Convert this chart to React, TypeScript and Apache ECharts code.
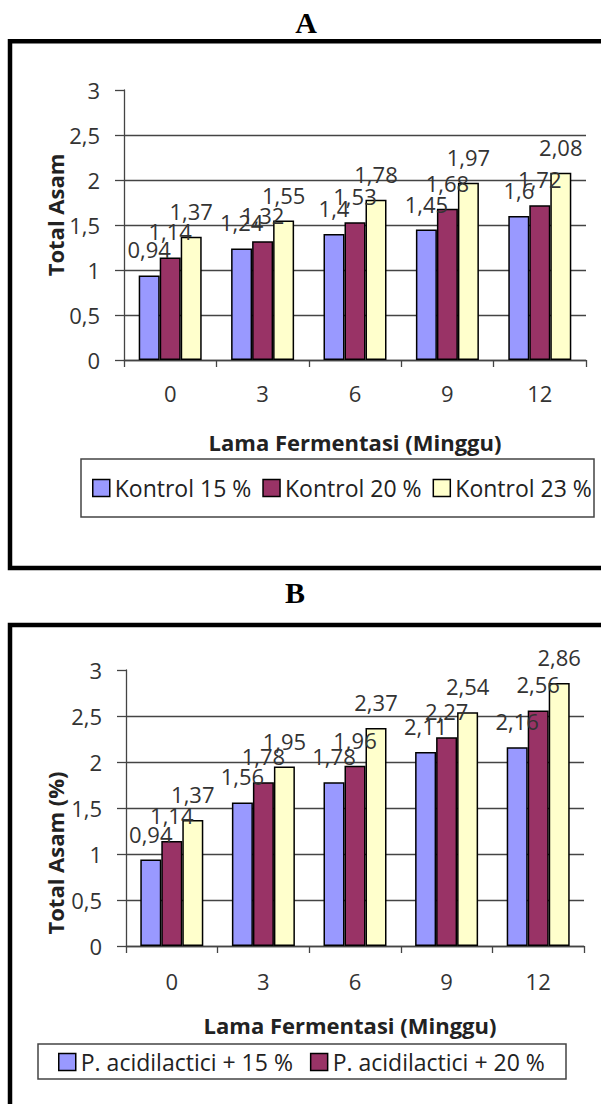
import React, { useEffect, useRef } from "react";
import * as echarts from "echarts";

const categories = ["0", "3", "6", "9", "12"];
const yTicks = [0, 0.5, 1, 1.5, 2, 2.5, 3];

const namesA = ["Kontrol 15 %", "Kontrol 20 %", "Kontrol 23 %"];
const kontrol15 = [0.94, 1.24, 1.4, 1.45, 1.6];
const kontrol20 = [1.14, 1.32, 1.53, 1.68, 1.72];
const kontrol23 = [1.37, 1.55, 1.78, 1.97, 2.08];

const namesB = ["P. acidilactici + 15 %", "P. acidilactici + 20 %", "P. acidilactici + 23 %"];
const pa15 = [0.94, 1.56, 1.78, 2.11, 2.16];
const pa20 = [1.14, 1.78, 1.96, 2.27, 2.56];
const pa23 = [1.37, 1.95, 2.37, 2.54, 2.86];

const colors = ["#9999FF", "#993366", "#FFFFCC"];
const FONT = "'Open Sans', sans-serif";

const fmt = (v: number) => String(v).replace(".", ",");

export default function App() {
  const ref = useRef<HTMLDivElement>(null);
  useEffect(() => {
    if (!ref.current) return;
    const chart = echarts.init(ref.current, null, { renderer: "svg" });

    const makeSeries = (names: string[], data: number[][], axisIndex: number) =>
      data.map((d, i) => ({
        type: "bar",
        name: names[i],
        xAxisIndex: axisIndex,
        yAxisIndex: axisIndex,
        data: d,
        barWidth: 21,
        barGap: "0%",
        itemStyle: { color: colors[i], borderColor: "#000", borderWidth: 1.5 },
        label: {
          show: true,
          position: "top",
          distance: 15,
          formatter: (p: any) => fmt(p.value),
          fontFamily: FONT,
          fontSize: 22,
          color: "#333",
        },
      }));

    const xAxisBase = (gridIndex: number, margin: number) => ({
      type: "category",
      gridIndex,
      data: categories,
      axisLine: { show: true, lineStyle: { color: "#444", width: 1.3 } },
      axisTick: { show: true, length: 7, lineStyle: { color: "#444", width: 1.3 } },
      axisLabel: { fontFamily: FONT, fontSize: 22, color: "#333", margin },
      splitLine: { show: false },
    });

    const yAxisBase = (gridIndex: number) => ({
      type: "value",
      gridIndex,
      min: yTicks[0],
      max: yTicks[yTicks.length - 1],
      interval: 0.5,
      axisLine: { show: true, lineStyle: { color: "#444", width: 1.3 } },
      axisTick: { show: true, length: 9, lineStyle: { color: "#444", width: 1.3 } },
      axisLabel: {
        fontFamily: FONT,
        fontSize: 22,
        color: "#333",
        margin: 24,
        formatter: (v: number) => fmt(v),
      },
      splitLine: {
        show: true,
        showMaxLine: false,
        lineStyle: { color: "#444", width: 1.3 },
      },
    });

    const option: any = {
      animation: false,
      backgroundColor: "#fff",
      grid: [
        { left: 124, top: 90, width: 462, height: 270 },
        { left: 126, top: 670, width: 458, height: 276 },
      ],
      xAxis: [xAxisBase(0, 22), xAxisBase(1, 24)],
      yAxis: [yAxisBase(0), yAxisBase(1)],
      legend: [
        {
          data: namesA,
          left: 92,
          top: 476,
          padding: 0,
          itemWidth: 17,
          itemHeight: 17,
          itemGap: 11,
          icon: "rect",
          itemStyle: { borderColor: "#000", borderWidth: 1.5 },
          textStyle: { fontFamily: FONT, fontSize: 23, color: "#222", lineHeight: 24 },
        },
        {
          data: namesB.slice(0, 2),
          left: 58,
          top: 1050,
          padding: 0,
          itemWidth: 17,
          itemHeight: 17,
          itemGap: 17,
          icon: "rect",
          itemStyle: { borderColor: "#000", borderWidth: 1.5 },
          textStyle: { fontFamily: FONT, fontSize: 23, color: "#222", lineHeight: 24 },
        },
      ],
      graphic: [
        {
          type: "rect",
          z: 0,
          shape: { x: 10, y: 41.3, width: 700, height: 526.7 },
          style: { fill: "none", stroke: "#000", lineWidth: 4.5 },
        },
        {
          type: "rect",
          z: 0,
          shape: { x: 10, y: 625, width: 700, height: 600 },
          style: { fill: "none", stroke: "#000", lineWidth: 4.5 },
        },
        {
          type: "rect",
          z: 0,
          shape: { x: 81, y: 459, width: 513, height: 58 },
          style: { fill: "#fff", stroke: "#444", lineWidth: 1.5 },
        },
        {
          type: "rect",
          z: 0,
          shape: { x: 38, y: 1044, width: 528, height: 35 },
          style: { fill: "#fff", stroke: "#444", lineWidth: 1.5 },
        },
        {
          type: "text",
          x: 306,
          y: 22,
          style: {
            text: "A",
            font: "bold 30px 'Liberation Serif', serif",
            fill: "#000",
            align: "center",
            verticalAlign: "middle",
          },
        },
        {
          type: "text",
          x: 295,
          y: 592,
          style: {
            text: "B",
            font: "bold 30px 'Liberation Serif', serif",
            fill: "#000",
            align: "center",
            verticalAlign: "middle",
          },
        },
        {
          type: "text",
          x: 55,
          y: 215,
          rotation: Math.PI / 2,
          style: {
            text: "Total Asam",
            font: "bold 22px 'Open Sans', sans-serif",
            fill: "#222",
            align: "center",
            verticalAlign: "middle",
          },
        },
        {
          type: "text",
          x: 55,
          y: 853,
          rotation: Math.PI / 2,
          style: {
            text: "Total Asam (%)",
            font: "bold 22px 'Open Sans', sans-serif",
            fill: "#222",
            align: "center",
            verticalAlign: "middle",
          },
        },
        {
          type: "text",
          x: 355,
          y: 442,
          style: {
            text: "Lama Fermentasi (Minggu)",
            font: "bold 22px 'Open Sans', sans-serif",
            fill: "#222",
            align: "center",
            verticalAlign: "middle",
          },
        },
        {
          type: "text",
          x: 350,
          y: 1025,
          style: {
            text: "Lama Fermentasi (Minggu)",
            font: "bold 22px 'Open Sans', sans-serif",
            fill: "#222",
            align: "center",
            verticalAlign: "middle",
          },
        },
      ],
      series: [
        ...makeSeries(namesA, [kontrol15, kontrol20, kontrol23], 0),
        ...makeSeries(namesB, [pa15, pa20, pa23], 1),
      ],
    };

    chart.setOption(option);
    return () => chart.dispose();
  }, []);

  return (
    <div
      ref={ref}
      style={{ position: "absolute", left: 0, top: 0, width: 601, height: 1104, background: "#fff" }}
    />
  );
}
